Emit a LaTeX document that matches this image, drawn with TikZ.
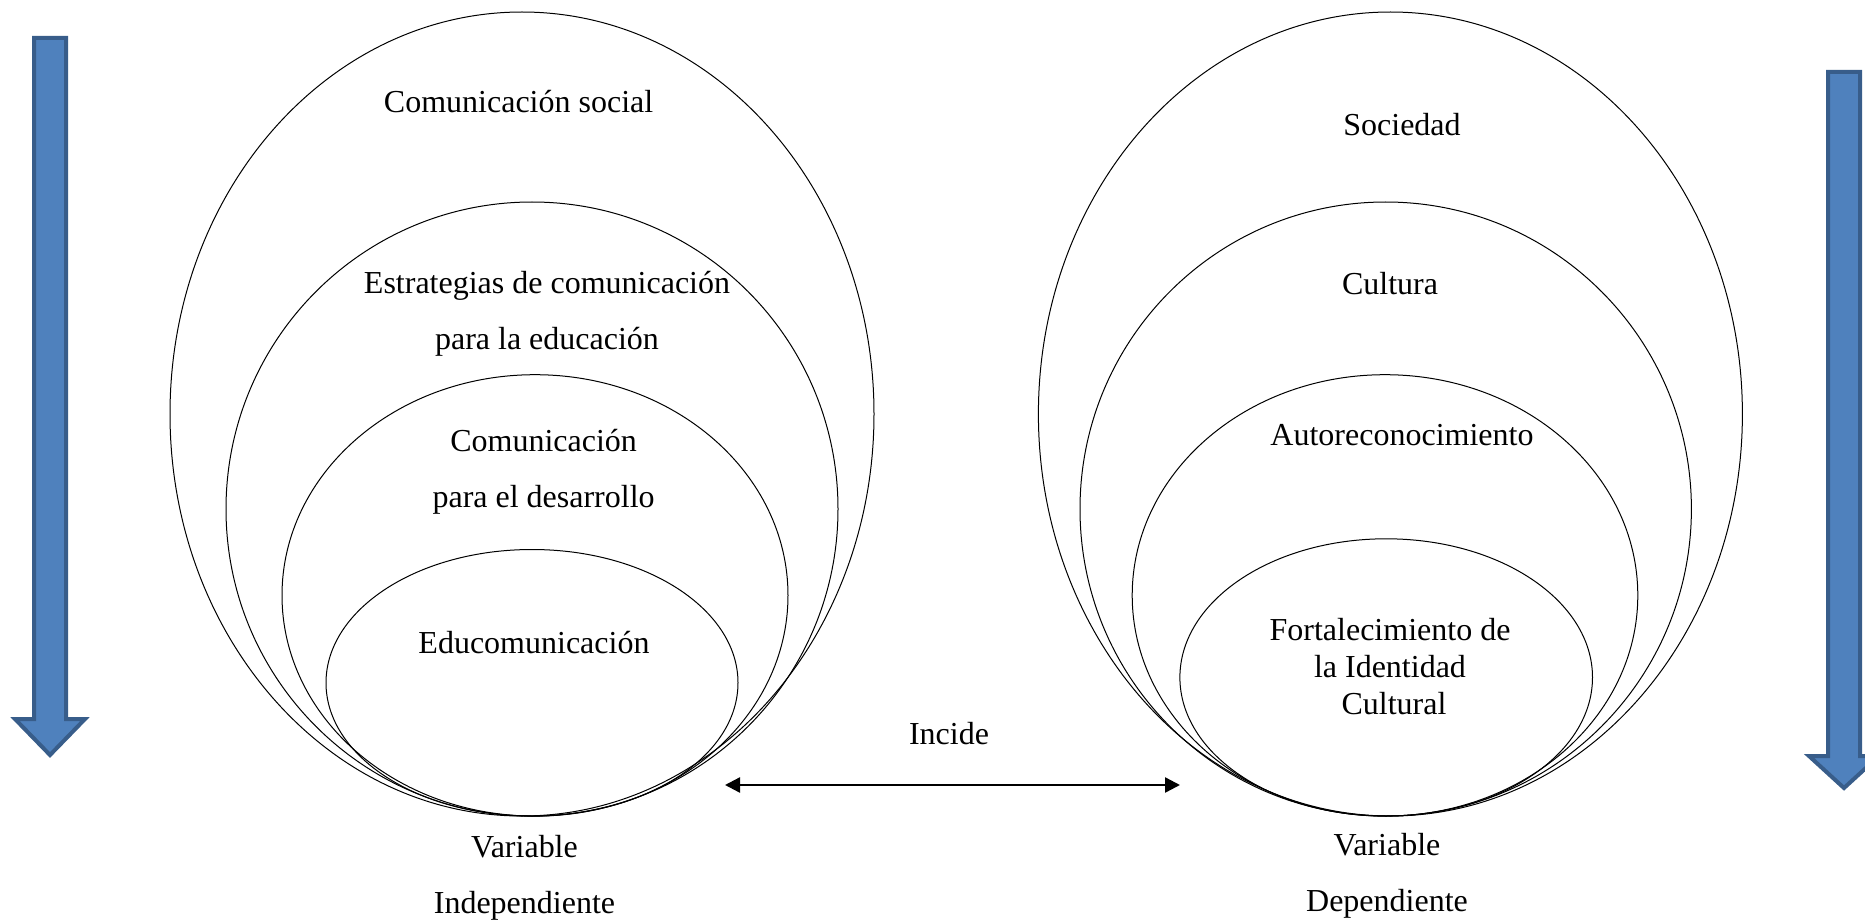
\documentclass[tikz,border=0pt]{standalone}
\usepackage{fontspec}
\setmainfont{Liberation Serif}
\usetikzlibrary{arrows.meta}
\definecolor{bluefill}{HTML}{4F81BD}
\definecolor{blueline}{HTML}{385D8A}
\begin{document}
\begin{tikzpicture}[x=0.5pt,y=-0.5pt,
  ring/.style={draw=black,line width=0.5pt},
  lbl/.style={font=\fontsize{16}{18.5}\selectfont, inner sep=0pt, align=center},
  lbltwo/.style={font=\fontsize{16}{28}\selectfont, inner sep=0pt, align=center},
  bluearrow/.style={fill=bluefill,draw=blueline,line width=2pt,line join=miter},
  link/.style={line width=1.2pt,{Triangle[length=7.5pt,width=7.5pt]}-{Triangle[length=7.5pt,width=7.5pt]}}]
\useasboundingbox (0,0) rectangle (1865,920);

% left ellipses
\draw[ring] (522,414) ellipse [x radius=176pt, y radius=201pt];
\draw[ring] (532,509) ellipse [x radius=153pt, y radius=153.5pt];
\draw[ring] (535,595.4) ellipse [x radius=126.5pt, y radius=110.35pt];
\draw[ring] (532,682.8) ellipse [x radius=103pt, y radius=66.65pt];

% right ellipses
\draw[ring] (1390.4,414) ellipse [x radius=176pt, y radius=201pt];
\draw[ring] (1385.7,509) ellipse [x radius=152.85pt, y radius=153.5pt];
\draw[ring] (1385,595.4) ellipse [x radius=126.4pt, y radius=110.35pt];
\draw[ring] (1386.2,677.4) ellipse [x radius=103.15pt, y radius=69.3pt];

% left labels
\node[lbl] (cs) at (518.6,102) {Comunicación social};
\node[lbltwo] (ece) at (547,313.5) {Estrategias de comunicación\\para la educación};
\node[lbltwo] (cpd) at (543.6,472) {Comunicación\\para el desarrollo};
\node[lbl] (edu) at (534,643) {Educomunicación};
\node[lbltwo] (vi) at (524.5,878) {Variable\\Independiente};

% right labels
\node[lbl] (soc) at (1402,125) {Sociedad};
\node[lbl] (cul) at (1390,283.5) {Cultura};
\node[lbl] (aut) at (1402,435) {Autoreconocimiento};
\node[lbl] (fic) at (1390,666.5) {Fortalecimiento de\\la Identidad\\\ Cultural};
\node[lbltwo] (vd) at (1387,876) {Variable\\Dependiente};

% relation
\node[lbl] (inc) at (949,734) {Incide};
\coordinate (aL) at (725,785);
\coordinate (aR) at (1180,785);
\draw[link] (aL) -- (aR);

% blue arrows
\draw[bluearrow] (34,38) -- (66,38) -- (66,719) -- (85,719) -- (50,755) -- (15,719) -- (34,719) -- cycle;
\draw[bluearrow] (1828,72) -- (1860,72) -- (1860,756) -- (1879,756) -- (1844,788) -- (1809,756) -- (1828,756) -- cycle;
\end{tikzpicture}
\end{document}
